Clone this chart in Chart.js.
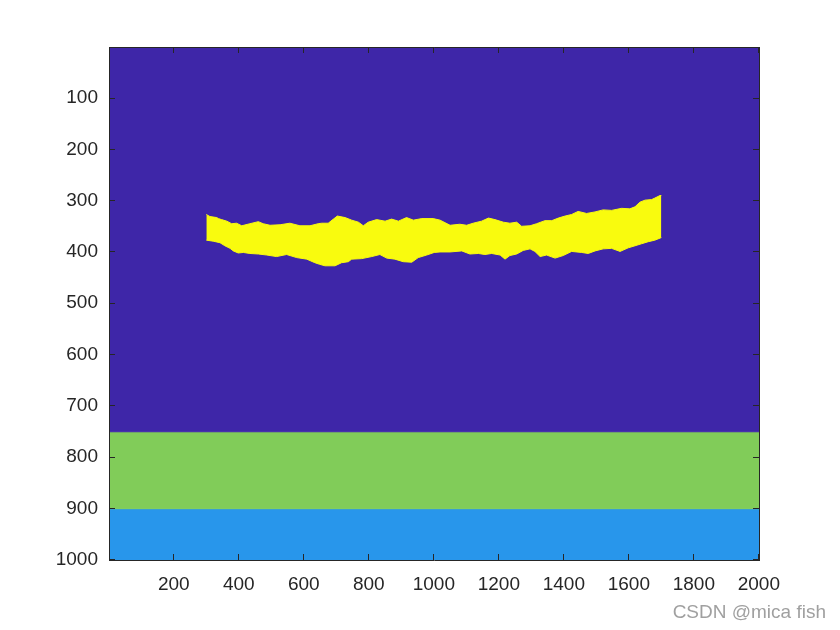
<!DOCTYPE html>
<html>
<head>
<meta charset="utf-8">
<script src="https://cdn.jsdelivr.net/npm/chart.js@4"></script>
<style>
  html, body { margin: 0; padding: 0; background: #fff; }
  #wrap { position: relative; width: 840px; height: 630px; }
  #mark { position: absolute; right: 14px; top: 602px; font: 19px "Liberation Sans", Arial, sans-serif; color: #a0a0a0; line-height: 20px; }
</style>
</head>
<body>
<div id="wrap">
  <canvas id="img" width="840" height="630"></canvas>
  <div id="mark">CSDN @mica fish</div>
</div>
<script>
// image extent (imagesc pixel edges)
const xRange = [0.5, 2000.5];
const yRange = [0.5, 1000.5];
const xTicks = [200, 400, 600, 800, 1000, 1200, 1400, 1600, 1800, 2000];
const yTicks = [100, 200, 300, 400, 500, 600, 700, 800, 900, 1000];

// horizontal bands: row where each band ends, and its colour
const bandEnds = [750.5, 900.5, 1000.5];
const bandColors = ['#3e26a8', '#81cc59', '#2896eb'];

// yellow region, upper edge
const topX = [300, 311, 332, 337, 347, 363, 378, 393, 409, 434, 460, 475, 496, 527, 557, 588, 619, 644, 655, 675,
  691, 703, 727, 747, 768, 783, 798, 824, 850, 870, 891, 916, 937, 963, 998, 1019, 1050, 1080, 1101, 1121,
  1147, 1168, 1188, 1214, 1234, 1255, 1270, 1296, 1316, 1342, 1363, 1383, 1404, 1424, 1444, 1470, 1496, 1521, 1547, 1578,
  1603, 1619, 1634, 1650, 1670, 1680, 1696, 1700];
const topY = [327, 331, 333, 335, 337, 340, 345, 344, 349, 345, 341, 345, 348, 347, 344, 349, 349, 345, 344, 344,
  336, 330, 333, 338, 342, 349, 342, 337, 340, 336, 340, 333, 338, 335, 335, 338, 348, 346, 348, 344,
  340, 334, 337, 342, 344, 342, 350, 349, 345, 339, 339, 334, 330, 327, 321, 325, 322, 318, 319, 315,
  316, 312, 303, 299, 298, 295, 290, 290];

// yellow region, lower edge
const bottomX = [300, 321, 342, 357, 373, 383, 398, 414, 434, 460, 486, 516, 547, 578, 609, 634, 648, 665, 696, 716,
  737, 747, 778, 809, 834, 855, 880, 906, 932, 952, 978, 1001, 1019, 1050, 1086, 1111, 1137, 1157, 1178, 1204,
  1219, 1234, 1255, 1275, 1296, 1311, 1327, 1347, 1373, 1398, 1424, 1455, 1475, 1496, 1521, 1547, 1573, 1598, 1619, 1639,
  1660, 1680, 1700];
const bottomY = [377, 379, 382, 388, 393, 398, 402, 401, 403, 404, 406, 409, 405, 411, 414, 421, 424, 427, 427, 421,
  419, 414, 413, 409, 405, 412, 414, 419, 420, 411, 406, 401, 400, 400, 398, 404, 403, 405, 403, 406,
  414, 407, 404, 397, 394, 399, 409, 406, 412, 407, 399, 401, 403, 398, 394, 393, 399, 392, 388, 384,
  380, 377, 372];

const yellow = '#f9fb0e';
const axisColor = '#262626';
const tickFont = { family: '"Liberation Sans", Arial, sans-serif', size: 19 };

function toPoints(xs, ys) {
  return xs.map((x, i) => ({ x: x, y: ys[i] }));
}

const datasets = [
  {
    data: toPoints(topX, topY),
    borderColor: yellow, borderWidth: 1, pointRadius: 0, fill: false
  },
  {
    data: toPoints(bottomX, bottomY),
    borderColor: yellow, borderWidth: 1, pointRadius: 0,
    backgroundColor: yellow, fill: '-1'
  }
];

// each band fills from the previous band end down to its own end
let bandStart = yRange[0];
bandEnds.forEach((end, i) => {
  datasets.push({
    data: [{ x: xRange[0], y: end }, { x: xRange[1], y: end }],
    borderWidth: 1, borderColor: bandColors[i], pointRadius: 0,
    backgroundColor: bandColors[i],
    fill: { value: bandStart }
  });
  bandStart = end;
});

function setTicks(list) {
  return scale => { scale.ticks = list.map(v => ({ value: v })); };
}

const plain = v => String(v);
// inward tick marks, drawn above the image (z: 1)
const gridOpts = { drawOnChartArea: false, drawTicks: true, tickLength: -6, color: axisColor, lineWidth: 1, z: 1 };
const borderOpts = { display: true, color: axisColor, width: 1, z: 1 };

new Chart(document.getElementById('img'), {
  type: 'line',
  data: { datasets: datasets },
  options: {
    responsive: false,
    animation: false,
    events: [],
    layout: { padding: 0 },
    elements: { line: { tension: 0 } },
    plugins: { legend: { display: false }, tooltip: { enabled: false } },
    scales: {
      x: {
        type: 'linear', position: 'bottom', min: xRange[0], max: xRange[1],
        afterBuildTicks: setTicks(xTicks),
        afterFit: s => { s.height = 70; },
        ticks: { font: tickFont, color: axisColor, padding: 19, maxRotation: 0, autoSkip: false, callback: plain },
        grid: gridOpts, border: borderOpts
      },
      x2: {
        type: 'linear', position: 'top', min: xRange[0], max: xRange[1],
        afterBuildTicks: setTicks(xTicks),
        afterFit: s => { s.height = 47; },
        ticks: { callback: () => '' },
        grid: gridOpts, border: borderOpts
      },
      y: {
        type: 'linear', position: 'left', min: yRange[0], max: yRange[1], reverse: true,
        afterBuildTicks: setTicks(yTicks),
        afterFit: s => { s.width = 109; },
        ticks: { font: tickFont, color: axisColor, padding: 17, autoSkip: false, callback: plain },
        grid: gridOpts, border: borderOpts
      },
      y2: {
        type: 'linear', position: 'right', min: yRange[0], max: yRange[1], reverse: true,
        afterBuildTicks: setTicks(yTicks),
        afterFit: s => { s.width = 81; },
        ticks: { callback: () => '' },
        grid: gridOpts, border: borderOpts
      }
    }
  }
});
</script>
</body>
</html>
